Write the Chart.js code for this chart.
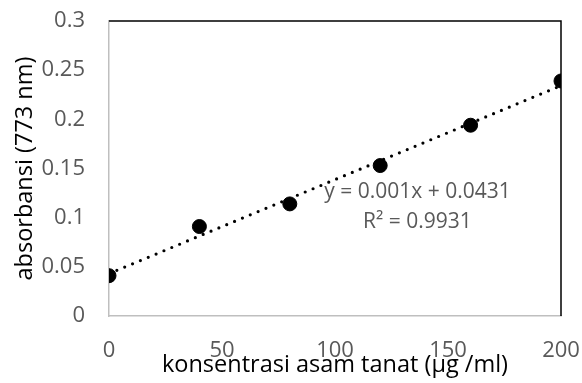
<!DOCTYPE html>
<html>
<head>
<meta charset="utf-8">
<script src="https://cdn.jsdelivr.net/npm/chart.js@4"></script>
<style>
html,body{margin:0;padding:0;background:#fff;}
#wrap{width:582px;height:383px;position:relative;}
</style>
</head>
<body>
<div id="wrap"><canvas id="c" width="582" height="383"></canvas></div>
<script>
// Data
const concentrations = [0, 40, 80, 120, 160, 200];
const absorbance = [0.041, 0.091, 0.114, 0.153, 0.194, 0.239];
const trendX = [0, 200];
const trendY = [0.0431, 0.2343];
const xTicks = [0, 50, 100, 150, 200];
const yTicks = [0, 0.05, 0.1, 0.15, 0.2, 0.25, 0.3];
const equationLines = ['y = 0.001x + 0.0431', 'R\u00B2 = 0.9931'];
const xTitle = 'konsentrasi asam tanat (\u00B5g /ml)';
const yTitle = 'absorbansi (773 nm)';

const FONT = "'Open Sans', 'Liberation Sans', sans-serif";
const GRAY_TEXT = '#595959';

const framePlugin = {
  id: 'frame',
  afterDraw(chart) {
    const {ctx, chartArea: a, scales} = chart;
    ctx.save();
    ctx.strokeStyle = '#000';
    ctx.lineWidth = 1.5;
    ctx.beginPath();
    ctx.moveTo(a.left, a.top);
    ctx.lineTo(a.right, a.top);
    ctx.lineTo(a.right, a.bottom);
    ctx.stroke();
    // equation label
    ctx.fillStyle = GRAY_TEXT;
    ctx.font = "21px " + FONT;
    ctx.textAlign = 'center';
    ctx.textBaseline = 'middle';
    const ex = scales.x.getPixelForValue(136.5);
    ctx.fillText(equationLines[0], ex, scales.y.getPixelForValue(0.1264));
    ctx.fillText(equationLines[1], ex, scales.y.getPixelForValue(0.0959));
    ctx.restore();
  }
};

new Chart(document.getElementById('c'), {
  type: 'scatter',
  data: {
    datasets: [
      {
        label: 'data',
        data: concentrations.map((x, i) => ({x, y: absorbance[i]})),
        backgroundColor: '#000',
        borderColor: '#000',
        pointRadius: 7,
        pointBorderWidth: 1,
        pointHoverRadius: 7,
        order: 0
      },
      {
        label: 'trend',
        type: 'line',
        data: trendX.map((x, i) => ({x, y: trendY[i]})),
        borderColor: '#000',
        borderWidth: 3.2,
        borderCapStyle: 'round',
        borderDash: [0, 8.5],
        pointRadius: 0,
        fill: false,
        order: 1
      }
    ]
  },
  options: {
    responsive: false,
    animation: false,
    events: [],
    layout: {padding: {left: 0, top: 21, right: 21, bottom: 0}},
    plugins: {legend: {display: false}, tooltip: {enabled: false}},
    scales: {
      x: {
        type: 'linear',
        min: 0, max: 200,
        afterBuildTicks(s) { s.ticks = xTicks.map(v => ({value: v})); },
        afterFit(s) { s.height = 67; s.paddingLeft = 0; s.paddingRight = 0; },
        grid: {display: false, drawTicks: false},
        border: {display: true, color: '#bfbfbf', width: 1.5},
        ticks: {color: GRAY_TEXT, font: {family: FONT, size: 22}, padding: 22, maxRotation: 0},
        title: {display: true, text: xTitle, color: '#000', font: {family: FONT, size: 23.5}, padding: {top: 0, bottom: 4}}
      },
      y: {
        type: 'linear',
        min: 0, max: 0.3,
        afterBuildTicks(s) { s.ticks = yTicks.map(v => ({value: v})); },
        afterFit(s) { s.width = 109; s.paddingTop = 0; s.paddingBottom = 0; },
        grid: {display: false, drawTicks: false},
        border: {display: true, color: '#bfbfbf', width: 1.5},
        ticks: {color: GRAY_TEXT, font: {family: FONT, size: 22}, padding: 24,
          callback: v => String(Math.round(v * 100) / 100)},
        title: {display: true, text: yTitle, color: '#000', font: {family: FONT, size: 23.5}, padding: {top: 11, bottom: 0}}
      }
    }
  },
  plugins: [framePlugin]
});
</script>
</body>
</html>
